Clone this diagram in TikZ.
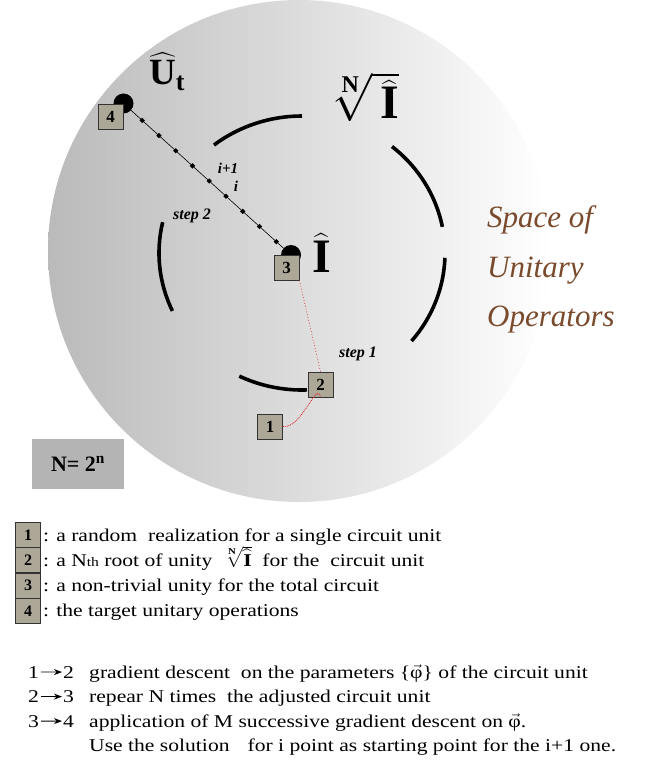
\RequirePackage{fix-cm}
\documentclass[tikz,border=0pt]{standalone}
\usepackage{amsmath}
\usepackage{fontspec}
\setmainfont{Liberation Serif}
\newfontfamily\bodyfont[FakeStretch=1.2]{Liberation Serif}
\usetikzlibrary{arrows.meta,shapes.geometric,calc}

\definecolor{boxgray}{RGB}{172,167,150}
\definecolor{nboxgray}{RGB}{180,180,180}
\definecolor{opbrown}{RGB}{122,74,44}
\definecolor{pathred}{RGB}{220,40,40}

\tikzset{
  numbox/.style={draw=black!80, line width=0.8pt, fill=boxgray, minimum size=25pt,
    inner sep=0pt, font=\bfseries\fontsize{17}{17}\selectfont},
  ringarc/.style={line width=3.6pt},
  spot/.style={circle, fill=black, minimum size=20pt, inner sep=0pt},
  dotmark/.style={diamond, fill=black, inner sep=1.4pt},
  steplabel/.style={inner sep=0pt, font=\bfseries\itshape\fontsize{16}{16}\selectfont},
  bigmath/.style={anchor=base west, inner sep=0pt},
  optext/.style={anchor=base west, inner sep=0pt, text=opbrown, font=\itshape\fontsize{31}{31}\selectfont},
  bodytext/.style={anchor=base west, inner sep=0pt, font=\bodyfont\fontsize{18}{18}\selectfont},
  redpath/.style={pathred, densely dotted, line width=0.9pt},
}

\begin{document}
\begin{tikzpicture}[x=1pt, y=-1pt]
\useasboundingbox (0,0) rectangle (645,770);

% the space of unitary operators
\shade[left color=black!27, right color=white] (299,251) circle [radius=251];
\coordinate (ring) at (302,253);
\foreach \a/\b in {-90/-128, -11/-51, 40/2, 116/88, -167/-205}
  \draw[ringarc] (ring) ++(\a:143 and 137) arc[start angle=\a, end angle=\b, x radius=143, y radius=137];

% step 2 : from the unity to the target
\node[spot] (d4) at (123.5,103.5) {};
\node[spot] (d3) at (291,255) {};
\draw[line width=0.6pt] (d4) -- (d3)
  \foreach \k in {1,...,9} { node[dotmark, pos={0.11*\k-0.037}] (m\k) {} };

\node[numbox] (b4) at (110.5,117) {4};
\node[numbox] (b3) at (286.5,267.5) {3};
\node[numbox] (b2) at (320.5,384.5) {2};
\node[numbox] (b1) at (270,426.5) {1};

% step 1
\draw[redpath] (b1.east) to[out=-10, in=100] (b2.south);
\draw[redpath, dotted, line width=0.6pt] (b2.north) -- (b3.south east);

\node[bigmath, font=\fontsize{37}{37}\selectfont] (ut) at (149,85) {$\widehat{\textbf{U}}_{\textbf{t}}$};
\node[bigmath, font=\fontsize{48}{48}\selectfont] (root) at (328,119)
  {$\sqrt[\textbf{N}]{\mkern3mu\widehat{\textbf{I}}}$};
\node[bigmath, font=\fontsize{48}{48}\selectfont] (id) at (312,272) {$\widehat{\textbf{I}}$};

\node[steplabel, font=\bfseries\itshape\fontsize{15}{15}\selectfont] (ip1) at (228,168) {i+1};
\node[steplabel, font=\bfseries\itshape\fontsize{15}{15}\selectfont] (ii) at (236,186) {i};
\node[steplabel] (s2) at (192,216) {step 2};
\node[steplabel] (s1) at (358,354) {step 1};

\node[optext] (sp1) at (487,227) {Space of};
\node[optext] (sp2) at (487,277) {Unitary};
\node[optext] (sp3) at (487,326) {Operators};

\node[fill=nboxgray, minimum width=92pt, minimum height=50pt,
  font=\bfseries\fontsize{22}{22}\selectfont] (nbox) at (78,464) {N= 2\textsuperscript{n}};

% legend
\foreach \k in {1,...,4}
  \node[numbox, font=\bfseries\fontsize{16}{16}\selectfont] (l\k) at (28,{535+25.3*(\k-1)}) {\k};
\node[bodytext] (t1) at ($(l1.east)+(2,6)$) {: a random~ realization for a single circuit unit};
\node[bodytext] (t2) at ($(l2.east)+(2,6)$) {: a N{\fontsize{13}{13}\selectfont th} root of unity~ $\sqrt[\textbf{N}]{\widehat{\textbf{I}}}$~ for the~ circuit unit};
\node[bodytext] (t3) at ($(l3.east)+(2,6)$) {: a non-trivial unity for the total circuit};
\node[bodytext] (t4) at ($(l4.east)+(2,6)$) {: the target unitary operations};

% the three steps
\foreach \k/\y in {1/678, 2/702.5, 3/727} {
  \pgfmathtruncatemacro{\nx}{\k+1}
  \node[bodytext] (f\k) at (28,\y) {\k};
  \node[bodytext] (g\k) at (63,\y) {\nx};
  \draw[-{Stealth[length=8pt, width=6pt]}, line width=0.8pt, shorten <=2pt, shorten >=1pt] (f\k) -- (g\k);
}
\node[bodytext] (e1) at (89,678) {gradient descent~ on the parameters \{$\vec{\text{φ}}$\} of the circuit unit};
\node[bodytext] (e2) at (89,702.5) {repear N times~ the adjusted circuit unit};
\node[bodytext] (e3) at (89,727) {application of M successive gradient descent on $\vec{\text{φ}}$.};
\node[bodytext] (e4) at (89,751.5) {Use the solution\quad for i point as starting point for the i+1 one.};
\end{tikzpicture}
\end{document}
